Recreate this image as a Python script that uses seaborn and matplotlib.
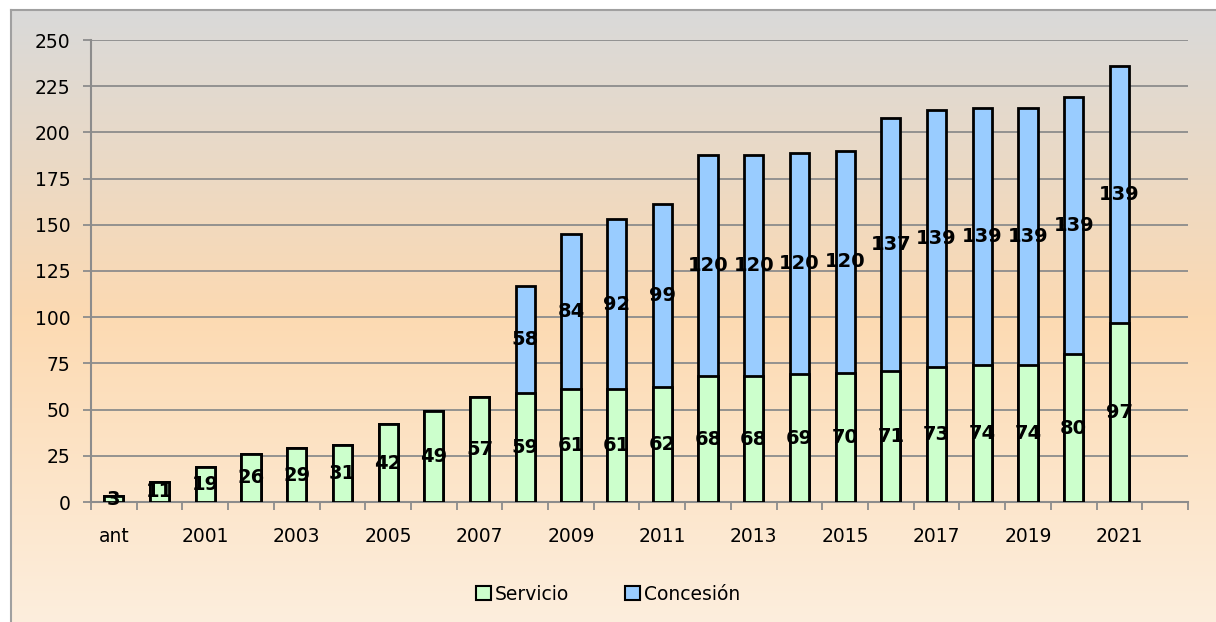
import matplotlib
matplotlib.use('Agg')
import matplotlib.pyplot as plt
import matplotlib.patches as mpatches
from matplotlib.colors import LinearSegmentedColormap
import seaborn as sns
import pandas as pd
import numpy as np

years = ['ant', '2000', '2001', '2002', '2003', '2004', '2005', '2006', '2007', '2008',
         '2009', '2010', '2011', '2012', '2013', '2014', '2015', '2016', '2017', '2018',
         '2019', '2020', '2021']
servicio = [3, 11, 19, 26, 29, 31, 42, 49, 57, 59, 61, 61, 62, 68, 68, 69, 70, 71, 73, 74, 74, 80, 97]
concesion = [0, 0, 0, 0, 0, 0, 0, 0, 0, 58, 84, 92, 99, 120, 120, 120, 120, 137, 139, 139, 139, 139, 139]

df = pd.DataFrame({'year': years, 'Servicio': servicio, 'Concesión': concesion})
df['total'] = df['Servicio'] + df['Concesión']

green = '#ccffcc'
blue = '#99ccff'
grid_c = '#8c8c8c'

sns.set_style('white')
plt.rcParams['font.family'] = ['DejaVu Sans']
plt.rcParams['text.color'] = 'black'
plt.rcParams['xtick.color'] = 'black'
plt.rcParams['ytick.color'] = 'black'

fig = plt.figure(figsize=(12.16, 6.22), dpi=100, facecolor='white')

# gradient background panel
bg = fig.add_axes([11 / 1216, 0, 1 - 11 / 1216, 1 - 10 / 622], zorder=0)
cmap = LinearSegmentedColormap.from_list('bg', [(0, '#d9d9d9'), (0.5, '#fcdab2'), (1, '#fdeedd')], N=1024)
bg.imshow(np.linspace(0, 1, 1024).reshape(-1, 1), aspect='auto', cmap=cmap,
          extent=[0, 1, 0, 1], interpolation='bilinear')
bg.set_xticks([])
bg.set_yticks([])
for s in ['right', 'bottom']:
    bg.spines[s].set_visible(False)
for s in ['left', 'top']:
    bg.spines[s].set_color('#a0a0a0')
    bg.spines[s].set_linewidth(1.5)

ax = fig.add_axes([91 / 1216, 1 - 502 / 622, 1097 / 1216, 462 / 622], zorder=1)
ax.patch.set_alpha(0)

sns.barplot(data=df, x='year', y='total', color=blue, saturation=1, width=0.42,
            edgecolor='black', linewidth=2, ax=ax, zorder=3)
sns.barplot(data=df, x='year', y='Servicio', color=green, saturation=1, width=0.42,
            edgecolor='black', linewidth=2, ax=ax, zorder=4)

for i, row in df.iterrows():
    ax.text(i, row['Servicio'] / 2, str(row['Servicio']), ha='center', va='center',
            fontsize=14, fontweight='bold', color='black', zorder=5)
    if row['Concesión'] > 0:
        ax.text(i, row['Servicio'] + row['Concesión'] / 2, str(row['Concesión']),
                ha='center', va='center', fontsize=14, fontweight='bold', color='black', zorder=5)

ax.set_xlim(-0.5, 23.5)
ax.set_ylim(0, 250)
ax.set_yticks(np.arange(0, 251, 25))
ax.yaxis.grid(True, color=grid_c, linewidth=1.3)
ax.set_axisbelow(True)

ax.set_xticks(range(len(years)))
ax.set_xticklabels([y if i % 2 == 0 else '' for i, y in enumerate(years)])
ax.set_xticks(np.arange(-0.5, 24, 1), minor=True)
ax.tick_params(axis='x', which='major', length=0, pad=18, labelsize=13.5, labelcolor='black')
ax.tick_params(axis='x', which='minor', length=6, width=1.3, color=grid_c, direction='out', bottom=True)
ax.tick_params(axis='y', length=6, width=1.3, color=grid_c, pad=9, labelsize=13.5, left=True,
               labelcolor='black')
ax.set_xlabel('')
ax.set_ylabel('')

for s in ['top', 'right']:
    ax.spines[s].set_visible(False)
for s in ['left', 'bottom']:
    ax.spines[s].set_color(grid_c)
    ax.spines[s].set_linewidth(1.5)

handles = [mpatches.Patch(facecolor=green, edgecolor='black', linewidth=1.5, label='Servicio'),
           mpatches.Patch(facecolor=blue, edgecolor='black', linewidth=1.5, label='Concesión')]
fig.legend(handles=handles, loc='center', bbox_to_anchor=(0.5, 1 - 594 / 622), ncol=2,
           frameon=False, fontsize=13.5, handlelength=0.8, handleheight=0.8,
           handletextpad=0.2, columnspacing=3, labelcolor='black')

fig.savefig('out.png', dpi=100, facecolor=fig.get_facecolor())
